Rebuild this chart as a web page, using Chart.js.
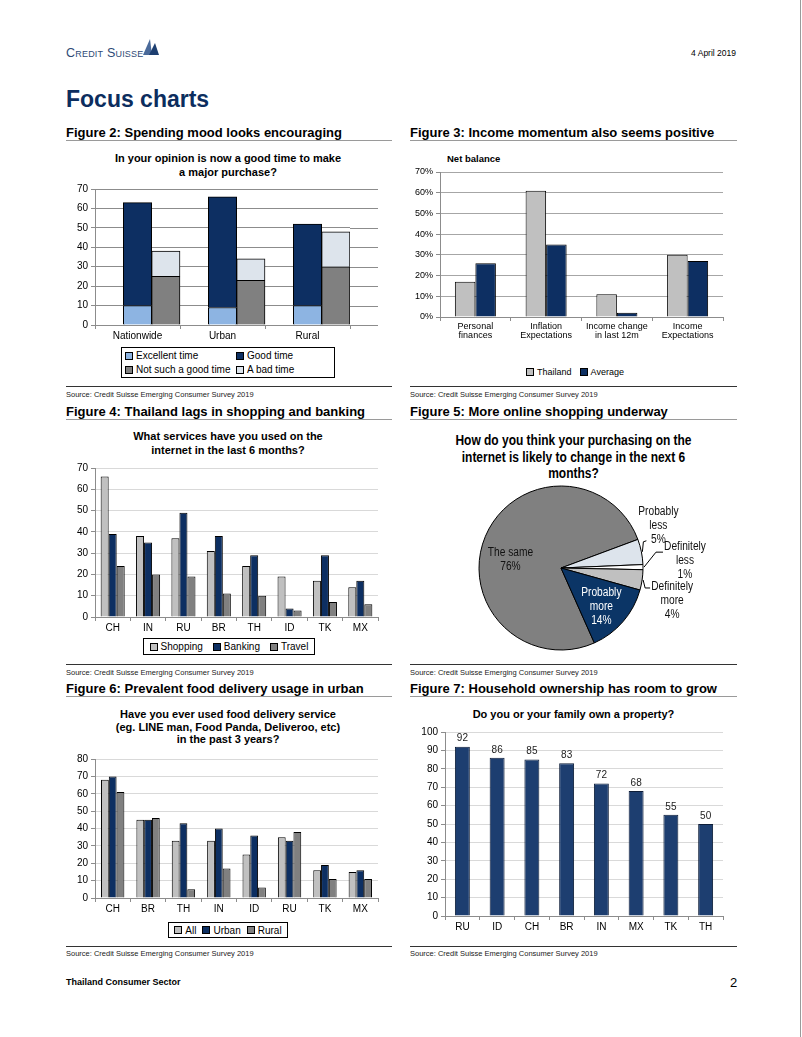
<!DOCTYPE html>
<html>
<head>
<meta charset="utf-8">
<title>Focus charts</title>
<script src="https://cdn.jsdelivr.net/npm/chart.js@4.4.1/dist/chart.umd.min.js"></script>
<style>
  body { margin: 0; background: #fff; font-family: "Liberation Sans", Arial, sans-serif; color: #000; }
  #page { position: relative; width: 802px; height: 1037px; overflow: hidden; }
  #page > * { position: absolute; }
  .fig { font-weight: bold; font-size: 13px; line-height: 15px; white-space: nowrap; }
  .rule { height: 0; border-top: 1.5px solid #9a9a9a; }
  .rule-src { height: 0; border-top: 1px solid #333; }
  .src { font-size: 7.5px; line-height: 9px; color: #222; white-space: nowrap; }
  .ctitle { font-weight: bold; font-size: 11px; text-align: center; white-space: nowrap; }
  .narrow { transform: scaleX(0.855); transform-origin: center top; }
  .legend { display: flex; align-items: center; justify-content: center; font-size: 10px; box-sizing: border-box; gap: 10px; }
  .legend.boxed { border: 1px solid #000; }
  .legend.grid2 { display: grid; grid-template-columns: 111px 100px; justify-content: start; align-content: center; row-gap: 3px; column-gap: 0; padding-left: 3px; }
  .legend .item { display: flex; align-items: center; white-space: nowrap; }
  .legend .sw { width: 6px; height: 6px; border: 1px solid #000; margin-right: 3px; flex: none; }
</style>
</head>
<body>
<div id="page">
  <div style="left:66px;top:46px;font-size:12.5px;font-variant:small-caps;color:#2e4a76;letter-spacing:0.2px;">Credit Suisse</div>
  <svg style="left:141px;top:37px;" width="20" height="20" viewBox="0 0 20 20">
    <polygon points="2,18 9,2 11,18" fill="#4a6a9a"/>
    <polygon points="8,18 14,6 18,18" fill="#1d3e70"/>
  </svg>
  <div style="right:66px;top:48px;font-size:8.5px;">4 April 2019</div>
  <div style="left:66px;top:86px;font-size:23px;font-weight:bold;color:#0c2d5e;">Focus charts</div>

  <div class="fig" style="left:66px;top:125px;">Figure 2: Spending mood looks encouraging</div>
  <div class="rule" style="left:66px;top:140px;width:326px;"></div>
  <div class="fig" style="left:410px;top:125px;">Figure 3: Income momentum also seems positive</div>
  <div class="rule" style="left:410px;top:140px;width:327px;"></div>

  <div class="ctitle" style="left:66px;top:151px;width:324px;line-height:14px;">In your opinion is now a good time to make<br>a major purchase?</div>
  <canvas id="c1"></canvas>
  <div id="lg1" class="legend boxed grid2" style="left:121px;top:347px;width:214px;height:31px;"></div>

  <div style="left:447px;top:153px;font-size:9.5px;font-weight:bold;">Net balance</div>
  <canvas id="c2"></canvas>
  <div id="lg2" class="legend" style="left:500px;top:365px;width:150px;height:13px;font-size:9px;gap:8px;"></div>

  <div class="rule-src" style="left:66px;top:386px;width:326px;"></div>
  <div class="src" style="left:66px;top:390px;">Source: Credit Suisse Emerging Consumer Survey 2019</div>
  <div class="rule-src" style="left:410px;top:386px;width:327px;"></div>
  <div class="src" style="left:410px;top:390px;">Source: Credit Suisse Emerging Consumer Survey 2019</div>

  <div class="fig" style="left:66px;top:404px;">Figure 4: Thailand lags in shopping and banking</div>
  <div class="rule" style="left:66px;top:419px;width:326px;"></div>
  <div class="fig" style="left:410px;top:404px;">Figure 5: More online shopping underway</div>
  <div class="rule" style="left:410px;top:419px;width:327px;"></div>

  <div class="ctitle" style="left:66px;top:430px;width:324px;line-height:13.5px;">What services have you used on the<br>internet in the last 6 months?</div>
  <canvas id="c3"></canvas>
  <div id="lg3" class="legend boxed" style="left:143px;top:638px;width:172px;height:17px;"></div>

  <div class="ctitle narrow" style="left:410px;top:432px;width:327px;font-size:14px;line-height:16.5px;">How do you think your purchasing on the<br>internet is likely to change in the next 6<br>months?</div>
  <canvas id="c4"></canvas>

  <div class="rule-src" style="left:66px;top:664px;width:326px;"></div>
  <div class="src" style="left:66px;top:668px;">Source: Credit Suisse Emerging Consumer Survey 2019</div>
  <div class="rule-src" style="left:410px;top:664px;width:327px;"></div>
  <div class="src" style="left:410px;top:668px;">Source: Credit Suisse Emerging Consumer Survey 2019</div>

  <div class="fig" style="left:66px;top:681px;">Figure 6: Prevalent food delivery usage in urban</div>
  <div class="rule" style="left:66px;top:696px;width:326px;"></div>
  <div class="fig" style="left:410px;top:681px;">Figure 7: Household ownership has room to grow</div>
  <div class="rule" style="left:410px;top:696px;width:327px;"></div>

  <div class="ctitle" style="left:66px;top:708px;width:324px;line-height:12.5px;">Have you ever used food delivery service<br>(eg. LINE man, Food Panda, Deliveroo, etc)<br>in the past 3 years?</div>
  <canvas id="c5"></canvas>
  <div id="lg5" class="legend boxed" style="left:168px;top:922px;width:120px;height:16px;gap:6px;"></div>

  <div class="ctitle" style="left:410px;top:707px;width:327px;line-height:14px;">Do you or your family own a property?</div>
  <canvas id="c6"></canvas>

  <div class="rule-src" style="left:66px;top:946px;width:326px;"></div>
  <div class="src" style="left:66px;top:949px;">Source: Credit Suisse Emerging Consumer Survey 2019</div>
  <div class="rule-src" style="left:410px;top:946px;width:327px;"></div>
  <div class="src" style="left:410px;top:949px;">Source: Credit Suisse Emerging Consumer Survey 2019</div>

  <div style="left:66px;top:977px;font-size:9px;font-weight:bold;">Thailand Consumer Sector</div>
  <div style="left:730px;top:975px;font-size:13px;">2</div>
  <div style="left:800px;top:0;width:1px;height:1037px;background:#9a9a9a;"></div>
</div>

<script>
// Figure 2: good time for a major purchase
const moodCats = ['Nationwide', 'Urban', 'Rural'];
const excellentTime = [10, 9, 10];
const goodTime = [53, 57, 42];
const notSoGoodTime = [25, 23, 30];
const badTime = [13, 11, 18];

// Figure 3: net balance
const incomeCats = [['Personal', 'finances'], ['Inflation', 'Expectations'], ['Income change', 'in last 12m'], ['Income', 'Expectations']];
const thailandNet = [17, 61, 11, 30];
const averageNet = [26, 35, 2, 27];

// Figure 4: services used on the internet
const serviceCats = ['CH', 'IN', 'RU', 'BR', 'TH', 'ID', 'TK', 'MX'];
const shopping = [66, 38, 37, 31, 24, 19, 17, 14];
const banking = [39, 35, 49, 38, 29, 4, 29, 17];
const travel = [24, 20, 19, 11, 10, 3, 7, 6];

// Figure 5: online purchasing change
const pieLabels = ['The same', 'Probably less', 'Definitely less', 'Definitely more', 'Probably more'];
const pieValues = [76, 5, 1, 4, 14];

// Figure 6: food delivery usage
const deliveryCats = ['CH', 'BR', 'TH', 'IN', 'ID', 'RU', 'TK', 'MX'];
const deliveryAll = [68, 45, 33, 33, 25, 35, 16, 15];
const deliveryUrban = [70, 45, 43, 40, 36, 33, 19, 16];
const deliveryRural = [61, 46, 5, 17, 6, 38, 11, 11];

// Figure 7: property ownership
const ownCats = ['RU', 'ID', 'CH', 'BR', 'IN', 'MX', 'TK', 'TH'];
const ownValues = [92, 86, 85, 83, 72, 68, 55, 50];

const navy = '#0d2f62';
const lightBlue = '#8db4e2';
const midGray = '#808080';
const lightGray = '#c0c0c0';
const paleBlue = '#dde4ec';

Chart.defaults.font.family = '"Liberation Sans", Arial, sans-serif';
Chart.defaults.color = '#000';
Chart.defaults.animation = false;
Chart.defaults.plugins.legend.display = false;
Chart.defaults.plugins.tooltip.enabled = false;

function place(id, box) {
    const c = document.getElementById(id);
    c.width = box.width;
    c.height = box.height;
    c.style.left = box.left + 'px';
    c.style.top = box.top + 'px';
    return c;
}

function padFor(box, plot) {
    return { top: plot.top - box.top, right: box.left + box.width - plot.right, left: 0, bottom: 0 };
}

function axes(box, plot, o) {
    return {
        x: {
            stacked: !!o.stacked,
            grid: { drawOnChartArea: false, drawTicks: true, tickLength: 4, color: o.axisColor, offset: true },
            border: { display: true, color: o.axisColor },
            ticks: { font: { size: o.xFont || o.font, lineHeight: 1 }, padding: o.xPad === undefined ? 2 : o.xPad, maxRotation: 0, autoSkip: false },
            afterFit: s => { s.height = box.top + box.height - plot.bottom; }
        },
        y: {
            stacked: !!o.stacked,
            min: 0, max: o.max,
            ticks: { stepSize: o.step, font: { size: o.font }, padding: 3, callback: o.fmt || (v => v) },
            grid: { color: o.gridColor, tickLength: 4, tickColor: o.axisColor },
            border: { display: true, color: o.axisColor },
            afterFit: s => { s.width = plot.left - box.left; }
        }
    };
}

function htmlLegend(id, chart) {
    const el = document.getElementById(id);
    chart.data.datasets.filter(ds => ds.label).forEach(ds => {
        const item = document.createElement('span');
        item.className = 'item';
        const sw = document.createElement('span');
        sw.className = 'sw';
        sw.style.background = ds.backgroundColor;
        item.appendChild(sw);
        item.appendChild(document.createTextNode(ds.label));
        el.appendChild(item);
    });
}

// gridlines in figure 2 run on past the last category, as in the Excel original
const gridExtend = {
    id: 'gridExtend',
    beforeDatasetsDraw(chart, args, opts) {
        const { ctx, chartArea, scales: { y } } = chart;
        ctx.save();
        ctx.lineWidth = 1;
        ctx.strokeStyle = opts.color;
        y.ticks.forEach(t => {
            const py = Math.round(y.getPixelForValue(t.value)) + 0.5;
            ctx.beginPath();
            ctx.moveTo(chartArea.right, py);
            ctx.lineTo(chartArea.right + opts.extra, py);
            ctx.stroke();
        });
        ctx.restore();
    }
};

// ---- Figure 2
const box1 = { left: 66, top: 180, width: 331, height: 165 };
const plot1 = { left: 95, top: 189, right: 350, bottom: 325 };
const chart1 = new Chart(place('c1', box1), {
    type: 'bar',
    data: {
        labels: moodCats,
        datasets: [
            { label: '', data: moodCats.map(() => 0), stack: 'gap', backgroundColor: 'rgba(0,0,0,0)', borderWidth: 0 },
            { label: 'Excellent time', data: excellentTime, stack: 'a', backgroundColor: lightBlue },
            { label: 'Good time', data: goodTime, stack: 'a', backgroundColor: navy },
            { label: 'Not such a good time', data: notSoGoodTime, stack: 'b', backgroundColor: midGray },
            { label: 'A bad time', data: badTime, stack: 'b', backgroundColor: paleBlue }
        ]
    },
    options: {
        responsive: false,
        layout: { padding: padFor(box1, plot1) },
        datasets: { bar: { borderColor: '#000', borderWidth: 1, barPercentage: 1, categoryPercentage: 1 } },
        plugins: { gridExtend: { extra: 28, color: '#8c8c8c' } },
        scales: axes(box1, plot1, { stacked: true, max: 70, step: 10, font: 10, gridColor: '#8c8c8c', axisColor: '#8c8c8c' })
    },
    plugins: [gridExtend]
});
htmlLegend('lg1', chart1);

// ---- Figure 3
const box2 = { left: 410, top: 162, width: 327, height: 180 };
const plot2 = { left: 440, top: 172, right: 723, bottom: 317 };
const chart2 = new Chart(place('c2', box2), {
    type: 'bar',
    data: {
        labels: incomeCats,
        datasets: [
            { label: 'Thailand', data: thailandNet, backgroundColor: lightGray },
            { label: 'Average', data: averageNet, backgroundColor: navy }
        ]
    },
    options: {
        responsive: false,
        layout: { padding: padFor(box2, plot2) },
        datasets: { bar: { borderColor: '#000', borderWidth: 1, barPercentage: 1, categoryPercentage: 0.58 } },
        scales: axes(box2, plot2, { max: 70, step: 10, font: 9, xPad: 1, gridColor: '#a6a6a6', axisColor: '#8c8c8c', fmt: v => v + '%' })
    }
});
htmlLegend('lg2', chart2);

// ---- Figure 4
const box3 = { left: 66, top: 458, width: 331, height: 177 };
const plot3 = { left: 95, top: 468, right: 378, bottom: 617 };
const chart3 = new Chart(place('c3', box3), {
    type: 'bar',
    data: {
        labels: serviceCats,
        datasets: [
            { label: 'Shopping', data: shopping, backgroundColor: lightGray },
            { label: 'Banking', data: banking, backgroundColor: navy },
            { label: 'Travel', data: travel, backgroundColor: midGray }
        ]
    },
    options: {
        responsive: false,
        layout: { padding: padFor(box3, plot3) },
        datasets: { bar: { borderColor: '#000', borderWidth: 1, barPercentage: 1, categoryPercentage: 0.68 } },
        scales: axes(box3, plot3, { max: 70, step: 10, font: 10, gridColor: '#d9d9d9', axisColor: '#8c8c8c' })
    }
});
htmlLegend('lg3', chart3);

// ---- Figure 5 (pie)
const pieColors = [midGray, paleBlue, '#ffffff', lightGray, '#0b3566'];
const pieLabelStyle = [
    { k: 0.55, dx: -9, dy: 9, color: '#111', wrap: false },
    { k: 1, dx: 17, dy: -26, color: '#111', wrap: true, lead: [[1, 0], [2, -10], [5, -11]] },
    { k: 1, dx: 42, dy: -6, color: '#111', wrap: true, lead: [[1, 0], [13, -15], [20, -15]] },
    { k: 1, dx: 30, dy: 21, color: '#111', wrap: true, lead: [[1, 0], [3, 8], [8, 8]] },
    { k: 0.65, dx: 0, dy: 4, color: '#fff', wrap: true }
];
const pieLabelPlugin = {
    id: 'pieLabels',
    afterDatasetsDraw(chart) {
        const ctx = chart.ctx;
        ctx.save();
        ctx.font = '12px "Liberation Sans", Arial, sans-serif';
        ctx.textAlign = 'center';
        ctx.textBaseline = 'middle';
        chart.getDatasetMeta(0).data.forEach((arc, i) => {
            const p = arc.getProps(['x', 'y', 'startAngle', 'endAngle', 'outerRadius'], true);
            const mid = (p.startAngle + p.endAngle) / 2;
            const ux = Math.cos(mid), uy = Math.sin(mid);
            const s = pieLabelStyle[i];
            const ex = p.x + ux * p.outerRadius, ey = p.y + uy * p.outerRadius;
            if (s.lead) {
                ctx.strokeStyle = '#000';
                ctx.lineWidth = 1;
                ctx.beginPath();
                s.lead.forEach((pt, j) => {
                    if (j === 0) ctx.moveTo(ex + pt[0], ey + pt[1]);
                    else ctx.lineTo(ex + pt[0], ey + pt[1]);
                });
                ctx.stroke();
            }
            const lines = (s.wrap ? pieLabels[i].split(' ') : [pieLabels[i]]).concat(pieValues[i] + '%');
            const ax = p.x + ux * p.outerRadius * s.k + s.dx;
            const ay = p.y + uy * p.outerRadius * s.k + s.dy;
            const lh = 14;
            ctx.fillStyle = s.color;
            lines.forEach((t, j) => {
                ctx.save();
                ctx.translate(ax, ay + (j - (lines.length - 1) / 2) * lh);
                ctx.scale(0.85, 1);
                ctx.fillText(t, 0, 0);
                ctx.restore();
            });
        });
        ctx.restore();
    }
};
const box4 = { left: 410, top: 480, width: 327, height: 178 };
new Chart(place('c4', box4), {
    type: 'pie',
    data: {
        labels: pieLabels,
        datasets: [{ data: pieValues, backgroundColor: pieColors, borderColor: '#000', borderWidth: 1 }]
    },
    options: {
        responsive: false,
        rotation: 156,
        radius: 82,
        layout: { padding: { left: 0, right: 25, top: 0, bottom: 2 } }
    },
    plugins: [pieLabelPlugin]
});

// ---- Figure 6
const box5 = { left: 66, top: 750, width: 331, height: 165 };
const plot5 = { left: 95, top: 759, right: 378, bottom: 898 };
const chart5 = new Chart(place('c5', box5), {
    type: 'bar',
    data: {
        labels: deliveryCats,
        datasets: [
            { label: 'All', data: deliveryAll, backgroundColor: lightGray },
            { label: 'Urban', data: deliveryUrban, backgroundColor: navy },
            { label: 'Rural', data: deliveryRural, backgroundColor: midGray }
        ]
    },
    options: {
        responsive: false,
        layout: { padding: padFor(box5, plot5) },
        datasets: { bar: { borderColor: '#000', borderWidth: 1, barPercentage: 1, categoryPercentage: 0.66 } },
        scales: axes(box5, plot5, { max: 80, step: 10, font: 10, gridColor: '#d9d9d9', axisColor: '#8c8c8c' })
    }
});
htmlLegend('lg5', chart5);

// ---- Figure 7
const valueLabels = {
    id: 'valueLabels',
    afterDatasetsDraw(chart) {
        const ctx = chart.ctx;
        ctx.save();
        ctx.font = '10px "Liberation Sans", Arial, sans-serif';
        ctx.fillStyle = '#222';
        ctx.textAlign = 'center';
        ctx.textBaseline = 'bottom';
        chart.getDatasetMeta(0).data.forEach((bar, i) => {
            ctx.fillText(chart.data.datasets[0].data[i], bar.x, bar.y - 3);
        });
        ctx.restore();
    }
};
const box6 = { left: 410, top: 722, width: 327, height: 215 };
const plot6 = { left: 445, top: 732, right: 723, bottom: 916 };
new Chart(place('c6', box6), {
    type: 'bar',
    data: {
        labels: ownCats,
        datasets: [{ label: 'Own a property', data: ownValues, backgroundColor: '#1d3e70', borderColor: '#0d1d38', borderWidth: 1 }]
    },
    options: {
        responsive: false,
        layout: { padding: padFor(box6, plot6) },
        datasets: { bar: { barPercentage: 1, categoryPercentage: 0.43 } },
        scales: axes(box6, plot6, { max: 100, step: 10, font: 10, gridColor: '#d9d9d9', axisColor: '#8c8c8c' })
    },
    plugins: [valueLabels]
});
</script>
</body>
</html>
